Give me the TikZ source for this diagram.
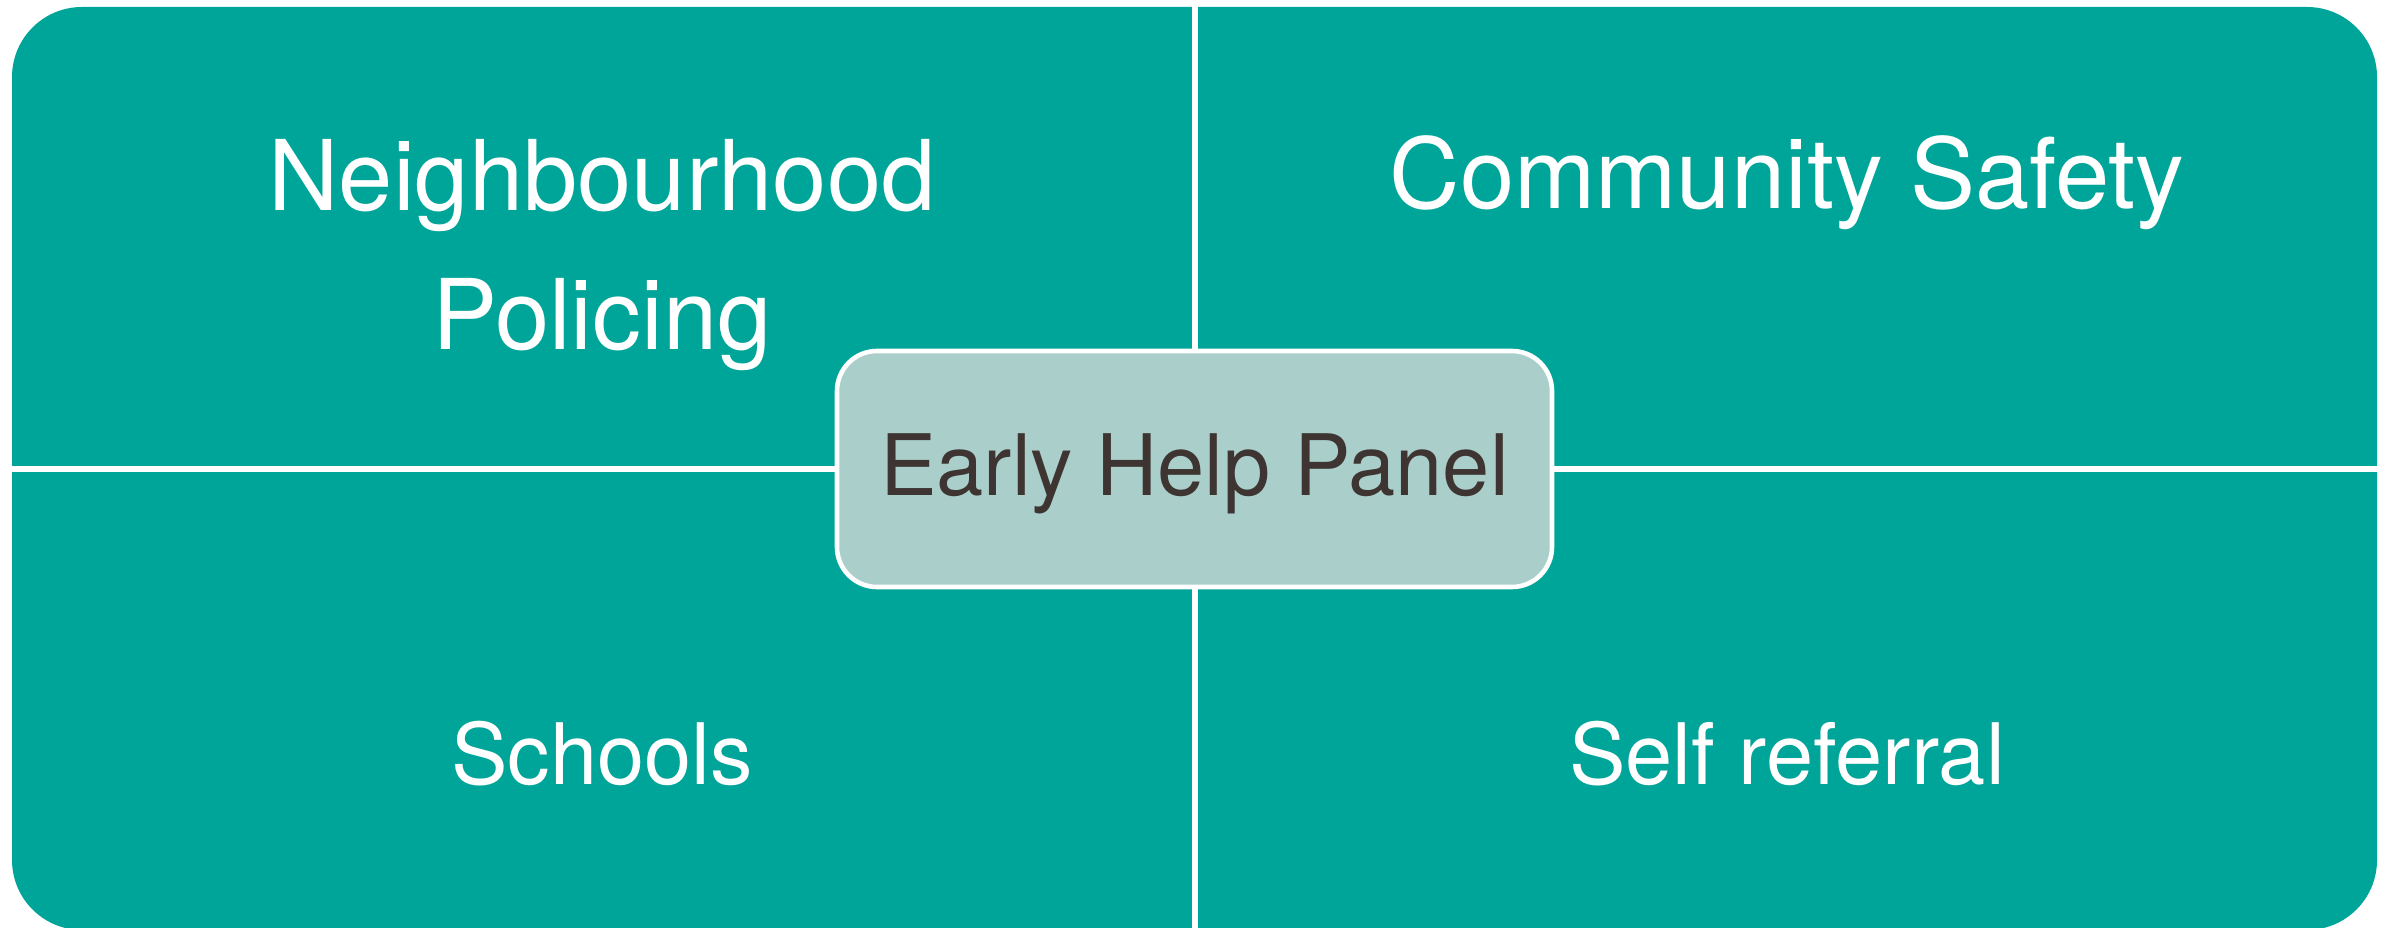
\documentclass[tikz,border=0pt]{standalone}
\usepackage{fontspec}
\setmainfont{TeX Gyre Heros}
\definecolor{tealbg}{HTML}{00A59A}
\definecolor{panelfill}{HTML}{AACFCB}
\definecolor{paneltext}{HTML}{3E3532}
\begin{document}
\begin{tikzpicture}[x=0.25pt,y=-0.25pt,
  quadlabel/.style={text=white,font=\fontsize{24.4pt}{29pt}\selectfont,inner sep=0pt,anchor=base},
  smalllabel/.style={quadlabel,font=\fontsize{21.2pt}{25pt}\selectfont},
  panelbox/.style={fill=panelfill,draw=white,line width=1.15pt,rounded corners=10pt,
    minimum width=178.75pt,minimum height=59pt,inner sep=0pt,
    text=paneltext,font=\fontsize{21.2pt}{25pt}\selectfont,
    text height=15.2pt,text depth=1.75pt},
  divider/.style={white,line width=1.5pt}]
\useasboundingbox (0,0) rectangle (2389,928);
\fill[tealbg,rounded corners=17.5pt] (12,7) rectangle (2377,930);
\coordinate (vtop) at (1194.5,0);
\coordinate (vbot) at (1194.5,935);
\coordinate (hleft) at (0,469);
\coordinate (hright) at (2389,469);
\draw[divider] (vtop) -- (vbot);
\draw[divider] (hleft) -- (hright);
\node[panelbox] (ehp) at (1194.5,469) {Early Help Panel};
\node[quadlabel] (nbh) at (602,211) {Neighbourhood};
\node[quadlabel] (pol) at (602,350) {Policing};
\node[quadlabel] (cs) at (1787,209) {Community Safety};
\node[smalllabel] (sch) at (602,785) {Schools};
\node[smalllabel] (sr) at (1787,785) {Self referral};
\end{tikzpicture}
\end{document}
